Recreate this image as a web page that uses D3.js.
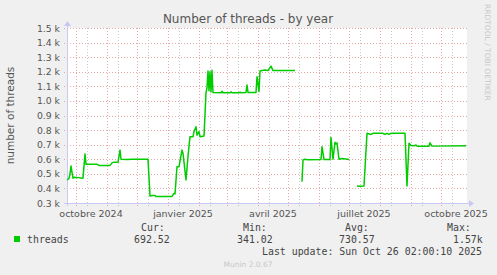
<!DOCTYPE html>
<html>
<head>
<meta charset="utf-8">
<script src="https://cdn.jsdelivr.net/npm/d3@7"></script>
<style>
    body { margin: 0; background: #f0f0f0; }
    svg { display: block; }
</style>
</head>
<body>
<svg id="chart" width="497" height="275"></svg>
<script>
const dates = [
    "2024-09-22", "2024-09-23", "2024-09-24", "2024-09-25", "2024-09-26", "2024-09-27", "2024-09-28", "2024-09-29",
    "2024-10-04", "2024-10-07", "2024-10-08", "2024-10-10", "2024-10-11", "2024-10-22", "2024-10-24",
    "2024-11-04", "2024-11-06", "2024-11-08", "2024-11-12", "2024-11-14", "2024-11-15", "2024-11-22", "2024-11-25",
    "2024-12-12", "2024-12-14", "2024-12-16", "2024-12-19", "2024-12-20",
    "2025-01-05", "2025-01-07", "2025-01-08", "2025-01-10", "2025-01-12", "2025-01-15", "2025-01-16", "2025-01-19",
    "2025-01-21", "2025-01-23", "2025-01-26", "2025-01-27", "2025-01-29", "2025-01-30",
    "2025-02-01", "2025-02-02", "2025-02-06", "2025-02-08", "2025-02-09", "2025-02-10", "2025-02-11", "2025-02-12",
    "2025-02-13", "2025-02-14", "2025-02-15", "2025-02-23", "2025-02-24", "2025-02-25",
    "2025-03-04", "2025-03-05", "2025-03-06", "2025-03-13", "2025-03-14", "2025-03-15", "2025-03-20", "2025-03-21",
    "2025-03-22", "2025-03-30", "2025-03-31",
    "2025-04-02", "2025-04-03", "2025-04-05", "2025-04-08", "2025-04-11", "2025-04-14", "2025-04-16",
    "2025-05-08", "2025-05-09", "2025-05-15", "2025-05-16", "2025-05-18", "2025-05-21",
    "2025-06-03", "2025-06-04", "2025-06-06", "2025-06-12", "2025-06-13", "2025-06-15", "2025-06-17", "2025-06-18",
    "2025-06-19", "2025-06-21", "2025-06-24",
    "2025-07-01", "2025-07-02", "2025-07-09", "2025-07-12", "2025-07-16", "2025-07-19", "2025-07-23", "2025-07-25",
    "2025-08-04", "2025-08-06", "2025-08-08", "2025-08-10", "2025-08-12", "2025-08-26", "2025-08-28", "2025-08-30",
    "2025-09-01", "2025-09-04", "2025-09-06", "2025-09-07", "2025-09-19", "2025-09-20", "2025-09-22",
    "2025-10-26"
];
const threads = [
    458, 462, 470, 500, 554, 510, 470, 476,
    474, 470, 472, 636, 565, 565, 558,
    558, 575, 580, 580, 663, 600, 598, 600,
    600, 348, 352, 352, 345,
    345, 366, 362, 549, 549, 663, 640, 458,
    620, 755, 755, 790, 823, 765,
    790, 755, 760, 1056, 1090, 1205, 1070, 1200,
    1062, 1210, 1058, 1056, 1066, 1056,
    1056, 1062, 1056, 1056, 1060, 1056, 1058, 1109,
    1058, 1058, 1166,
    1065, 1205, 1209, 1212, 1208, 1239, 1208,
    1208, null, 446, 595, 600, 596,
    598, 686, 598, 598, 750, 600, 716, 705,
    712, 600, 605,
    598, null, 417, 415, 417, 778, 770, 778,
    778, 770, 778, 770, 778, 778, 417, 709,
    695, 692, 698, 690, 690, 713, 690,
    692
];

const yTicks = [300, 400, 500, 600, 700, 800, 900, 1000, 1100, 1200, 1300, 1400, 1500];
const labelMonths = ["2024-10-01", "2025-01-01", "2025-04-01", "2025-07-01", "2025-10-01"];
const monthLabels = ["octobre 2024", "janvier 2025", "avril 2025", "juillet 2025", "octobre 2025"];
const legendHeaders = ["Cur:", "Min:", "Avg:", "Max:"];
const legendValues = ["692.52", "341.02", "730.57", "1.57k"];

const svg = d3.select("#chart");
const width = 497, height = 275;
const margin = { top: 28, right: 30, bottom: 72, left: 67 };
const plotW = 400, plotH = 175;

const parse = d3.timeParse("%Y-%m-%d");
const data = dates.map((d, i) => ({ date: parse(d), value: threads[i] }));

// background
svg.append("rect").attr("width", width).attr("height", height).attr("fill", "#f0f0f0");
svg.append("rect")
    .attr("x", margin.left).attr("y", margin.top)
    .attr("width", plotW).attr("height", plotH)
    .attr("fill", "#ffffff");

// scales
const x = d3.scaleTime()
    .domain([new Date(2024, 8, 22), new Date(2025, 9, 27)])
    .range([margin.left, margin.left + plotW]);
const y = d3.scaleLinear()
    .domain([300, 1500])
    .range([margin.top + plotH, margin.top]);

// grid: minor (grey) and major (red) lines
const months = d3.timeMonth.range(x.domain()[0], x.domain()[1]);
const minorDays = months.map(m => d3.timeDay.offset(m, 11)).filter(d => d < x.domain()[1]);
svg.append("g").selectAll("line")
    .data(minorDays)
    .join("line")
    .attr("x1", d => Math.round(x(d)) + 0.5).attr("x2", d => Math.round(x(d)) + 0.5)
    .attr("y1", margin.top).attr("y2", margin.top + plotH + 3)
    .attr("stroke", "#c8c8c8").attr("stroke-dasharray", "1,2");
svg.append("g").selectAll("line")
    .data(months)
    .join("line")
    .attr("x1", d => Math.round(x(d)) + 0.5).attr("x2", d => Math.round(x(d)) + 0.5)
    .attr("y1", margin.top).attr("y2", margin.top + plotH + 3)
    .attr("stroke", "#e8a8a8").attr("stroke-dasharray", "1,2");
svg.append("g").selectAll("line")
    .data(yTicks)
    .join("line")
    .attr("x1", margin.left - 3).attr("x2", margin.left + plotW)
    .attr("y1", d => Math.round(y(d)) + 0.5).attr("y2", d => Math.round(y(d)) + 0.5)
    .attr("stroke", "#e8a8a8").attr("stroke-dasharray", "1,2");

// axes lines with arrows
const axisColor = "#c8c8f4";
svg.append("line")
    .attr("x1", margin.left - 3).attr("x2", margin.left + plotW + 4)
    .attr("y1", margin.top + plotH + 0.5).attr("y2", margin.top + plotH + 0.5)
    .attr("stroke", axisColor);
svg.append("path")
    .attr("d", `M${margin.left + plotW + 2},${margin.top + plotH - 3} L${margin.left + plotW + 7},${margin.top + plotH + 0.5} L${margin.left + plotW + 2},${margin.top + plotH + 4} Z`)
    .attr("fill", axisColor);
svg.append("line")
    .attr("x1", margin.left + 0.5).attr("x2", margin.left + 0.5)
    .attr("y1", margin.top + plotH + 3).attr("y2", margin.top - 4)
    .attr("stroke", axisColor);
svg.append("path")
    .attr("d", `M${margin.left - 3},${margin.top - 2} L${margin.left + 0.5},${margin.top - 7} L${margin.left + 4},${margin.top - 2} Z`)
    .attr("fill", axisColor);

// y tick labels
svg.append("g").selectAll("text")
    .data(yTicks)
    .join("text")
    .attr("x", margin.left - 7)
    .attr("y", d => y(d) + 3.5)
    .attr("text-anchor", "end")
    .attr("font-family", "DejaVu Sans")
    .attr("font-size", "9.3px")
    .attr("fill", "#555")
    .text(d => (d / 1000).toFixed(1) + " k");

// x labels, centred mid-month like rrdtool
svg.append("g").selectAll("text")
    .data(labelMonths)
    .join("text")
    .attr("x", d => x(d3.timeDay.offset(parse(d), 15)))
    .attr("y", margin.top + plotH + 14)
    .attr("text-anchor", "middle")
    .attr("font-family", "DejaVu Sans")
    .attr("font-size", "9.5px")
    .attr("fill", "#555")
    .text((d, i) => monthLabels[i]);

// data line
const line = d3.line()
    .defined(d => d.value !== null)
    .x(d => x(d.date))
    .y(d => y(d.value));
svg.append("path")
    .datum(data)
    .attr("d", line)
    .attr("fill", "none")
    .attr("stroke", "#00cc00")
    .attr("stroke-width", 1.5)
    .attr("stroke-linejoin", "round");

// title and labels
svg.append("text")
    .attr("x", 248).attr("y", 23)
    .attr("text-anchor", "middle")
    .attr("font-family", "DejaVu Sans")
    .attr("font-size", "12px")
    .attr("fill", "#555")
    .text("Number of threads - by year");
svg.append("text")
    .attr("transform", `translate(14, ${margin.top + plotH / 2}) rotate(-90)`)
    .attr("text-anchor", "middle")
    .attr("font-family", "DejaVu Sans")
    .attr("font-size", "10.5px")
    .attr("fill", "#555")
    .text("number of threads");
svg.append("text")
    .attr("transform", "translate(485, 4) rotate(90)")
    .attr("font-family", "DejaVu Sans")
    .attr("font-size", "7.5px")
    .attr("fill", "#c8c8c8")
    .text("RRDTOOL / TOBI OETIKER");

// legend
const mono = "DejaVu Sans Mono";
svg.append("rect")
    .attr("x", 14).attr("y", 236)
    .attr("width", 6).attr("height", 6)
    .attr("fill", "#00cc00");
svg.append("text")
    .attr("x", 27).attr("y", 243)
    .attr("font-family", mono).attr("font-size", "9.9px").attr("fill", "#444")
    .text("threads");
const headerX = [141, 243, 345, 447];
const valueX = [134, 237, 339, 453];
svg.append("g").selectAll("text")
    .data(legendHeaders)
    .join("text")
    .attr("x", (d, i) => headerX[i]).attr("y", 231)
    .attr("font-family", mono).attr("font-size", "9.9px").attr("fill", "#444")
    .text(d => d);
svg.append("g").selectAll("text")
    .data(legendValues)
    .join("text")
    .attr("x", (d, i) => valueX[i]).attr("y", 243)
    .attr("font-family", mono).attr("font-size", "9.9px").attr("fill", "#444")
    .text(d => d);
svg.append("text")
    .attr("x", 262).attr("y", 255)
    .attr("font-family", mono).attr("font-size", "9.9px").attr("fill", "#444")
    .text("Last update: Sun Oct 26 02:00:10 2025");
svg.append("text")
    .attr("x", 248).attr("y", 267)
    .attr("text-anchor", "middle")
    .attr("font-family", "DejaVu Sans")
    .attr("font-size", "7.5px")
    .attr("fill", "#c8c8c8")
    .text("Munin 2.0.67");
</script>
</body>
</html>
